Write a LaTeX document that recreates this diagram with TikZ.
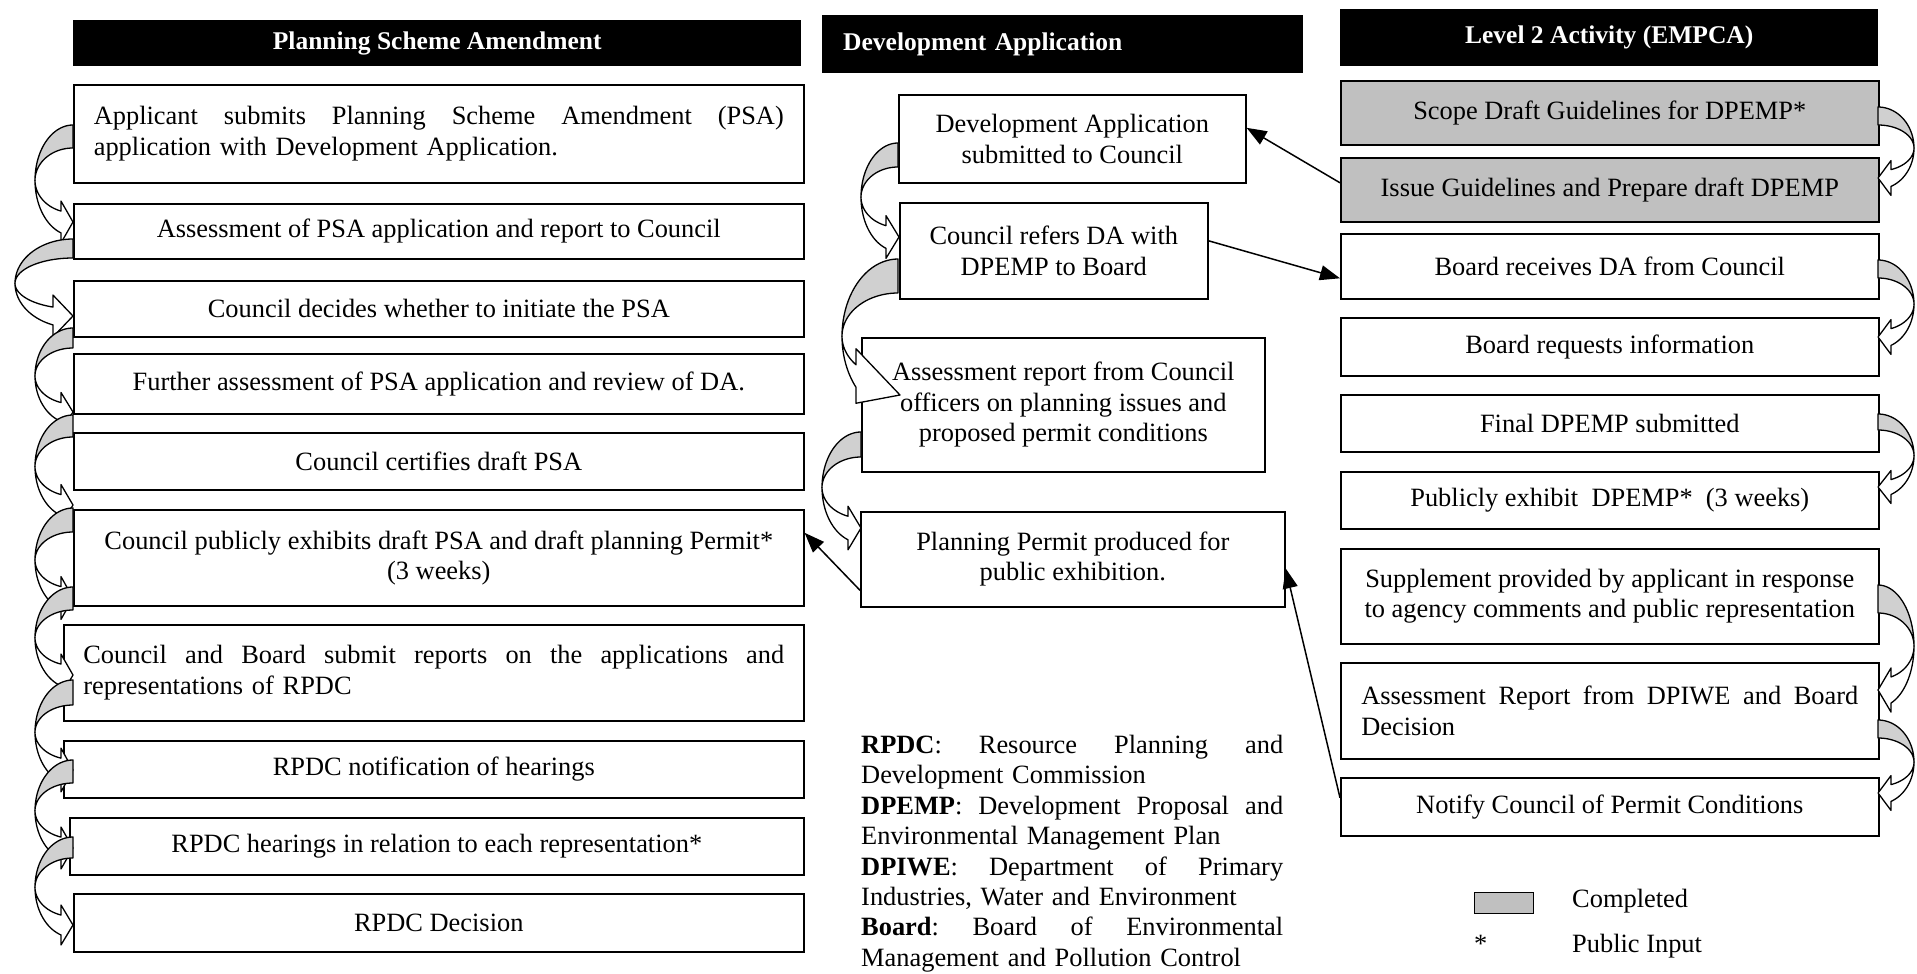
\documentclass[tikz,border=0pt]{standalone}
\usepackage{fontspec}
\setmainfont{Liberation Serif}
\usetikzlibrary{arrows.meta}

\definecolor{donegray}{RGB}{192,192,192}
\definecolor{curlgray}{RGB}{208,208,208}

\newcommand\bodysize{\fontsize{26.4}{30.4}\selectfont}
\newcommand\headsize{\fontsize{25.5}{29}\selectfont\bfseries}
% a justified line: words spread over the given width
\newcommand\spreadline[2]{\leavevmode\hbox to #1{#2}}

% Curved block arrow (ribbon bending outwards and back in).
% #1 x of the start edge, #2/#3 top/bottom of the band at the start,
% #4 outermost x, #5 head depth, #6/#7 tip, #8 barb overhang, #9 tip offset
\newcommand\curl[9]{%
  \pgfmathsetmacro\crx{(#1)-(#4)}%
  \pgfmathsetmacro\ctn{acos(-(#5)/\crx)}%
  \pgfmathsetmacro\csn{sin(\ctn)}%
  \pgfmathsetmacro\ccy{((#7)-(#9)+\csn*((#2)+(#3))/2)/(1+\csn)}%
  \pgfmathsetmacro\cro{\ccy-(#2)}%
  \pgfmathsetmacro\cri{\ccy-(#3)}%
  \pgfmathsetmacro\cxn{(#1)-(#5)}%
  \pgfmathsetmacro\cyu{\ccy+\cri*\csn-(#8)}%
  \pgfmathsetmacro\cyl{\ccy+\cro*\csn+(#8)}%
  \filldraw[curlback]
    plot[domain=0:90,samples=24] ({#1+\crx*cos(270-\x)},{\ccy+\cro*sin(270-\x)})
    -- plot[domain=0:90,samples=24] ({#1+\crx*cos(180+\x)},{\ccy+\cri*sin(180+\x)})
    -- cycle;
  \filldraw[curlfront]
    plot[domain=\ctn:180,samples=20] ({#1+\crx*cos(\x)},{\ccy+\cro*sin(\x)})
    -- plot[domain=\ctn:180,samples=20] ({#1+\crx*cos(180+\ctn-\x)},{\ccy+\cri*sin(180+\ctn-\x)})
    -- (\cxn,\cyu) -- (#6,#7) -- (\cxn,\cyl) -- cycle;
}

\begin{document}
\begin{tikzpicture}[x=1pt,y=-1pt,
  stagebox/.style={draw, line width=1.6pt, inner sep=0pt, anchor=north west,
    align=center, font=\bodysize},
  done/.style={stagebox, fill=donegray},
  headbar/.style={fill=black, text=white, inner sep=0pt, anchor=north west,
    align=center, font=\headsize},
  conn/.style={line width=1.5pt, -{Triangle[length=20pt,width=15pt]}},
  curlback/.style={fill=curlgray, draw=black, line width=1.3pt, line join=round},
  curlfront/.style={fill=white, draw=black, line width=1.3pt, line join=round},
  plain/.style={inner sep=0pt, font=\bodysize}]

\useasboundingbox (0,0) rectangle (1917,974);

% ---------- column headings ----------
\node[headbar, minimum width=728pt, minimum height=46pt] (hpsa) at (73,20)
  {Planning Scheme Amendment};
\node[headbar, minimum width=481pt, minimum height=58pt, text width=439pt,
  align=left] (hda) at (822,15) {Development Application};
\node[headbar, minimum width=538pt, minimum height=57pt] (hlev) at (1340,9)
  {Level 2 Activity (EMPCA)};

% ---------- Planning Scheme Amendment ----------
\node[stagebox, minimum width=730pt, minimum height=98pt, text width=690pt,
  align=left] (psa1) at (73,84)
  {\spreadline{690pt}{Applicant\hfill submits\hfill Planning\hfill Scheme\hfill
     Amendment\hfill (PSA)}\\
   application with Development Application.};
\node[stagebox, minimum width=730pt, minimum height=55pt] (psa2) at (73,203)
  {Assessment of PSA application and report to Council};
\node[stagebox, minimum width=730pt, minimum height=56pt] (psa3) at (73,280)
  {Council decides whether to initiate the PSA};
\node[stagebox, minimum width=730pt, minimum height=60pt] (psa4) at (73,353)
  {Further assessment of PSA application and review of DA.};
\node[stagebox, minimum width=730pt, minimum height=57pt] (psa5) at (73,432)
  {Council certifies draft PSA};
\node[stagebox, minimum width=730pt, minimum height=96pt] (psa6) at (73,509)
  {Council publicly exhibits draft PSA and draft planning Permit*\\(3 weeks)};
\node[stagebox, minimum width=740pt, minimum height=96pt, text width=701pt,
  align=left] (psa7) at (63,624)
  {\spreadline{701pt}{Council\hfill and\hfill Board\hfill submit\hfill reports\hfill
     on\hfill the\hfill applications\hfill and}\\
   representations of RPDC};
\node[stagebox, minimum width=740pt, minimum height=57pt] (psa8) at (63,740)
  {RPDC notification of hearings};
\node[stagebox, minimum width=734pt, minimum height=57pt] (psa9) at (69,817)
  {RPDC hearings in relation to each representation*};
\node[stagebox, minimum width=730pt, minimum height=58pt] (psa10) at (73,893)
  {RPDC Decision};

% ---------- Development Application ----------
\node[stagebox, minimum width=347pt, minimum height=88pt] (dasub) at (898,94)
  {Development Application\\submitted to Council};
\node[stagebox, minimum width=308pt, minimum height=96pt] (refer) at (899,202)
  {Council refers DA with\\DPEMP to Board};
\node[stagebox, minimum width=403pt, minimum height=134pt] (assess) at (861,337)
  {Assessment report from Council\\officers on planning issues and\\proposed permit conditions};
\node[stagebox, minimum width=424pt, minimum height=95pt] (permit) at (860,511)
  {Planning Permit produced for\\public exhibition.};

% ---------- Level 2 Activity ----------
\node[done, minimum width=538pt, minimum height=64pt] (scope) at (1340,80)
  {Scope Draft Guidelines for DPEMP*};
\node[done, minimum width=538pt, minimum height=64pt] (issue) at (1340,157)
  {Issue Guidelines and Prepare draft DPEMP};
\node[stagebox, minimum width=538pt, minimum height=65pt] (recv) at (1340,233)
  {Board receives DA from Council};
\node[stagebox, minimum width=538pt, minimum height=58pt] (req) at (1340,317)
  {Board requests information};
\node[stagebox, minimum width=538pt, minimum height=57pt] (final) at (1340,394)
  {Final DPEMP submitted};
\node[stagebox, minimum width=538pt, minimum height=57pt] (exhibit) at (1340,471)
  {Publicly exhibit\ \ DPEMP*\ \ (3 weeks)};
\node[stagebox, minimum width=538pt, minimum height=95pt] (supp) at (1340,548)
  {Supplement provided by applicant in response\\to agency comments and public representation};
\node[stagebox, minimum width=538pt, minimum height=96pt, text width=497pt,
  align=left] (rassess) at (1340,662)
  {\spreadline{497pt}{Assessment\hfill Report\hfill from\hfill DPIWE\hfill and\hfill
     Board}\\Decision};
\node[stagebox, minimum width=538pt, minimum height=58pt] (notify) at (1340,777)
  {Notify Council of Permit Conditions};

% ---------- abbreviations ----------
\node[plain, anchor=north west, text width=422pt, align=left] (abbr) at (861,735)
  {\spreadline{422pt}{\textbf{RPDC}:\hfill Resource\hfill Planning\hfill and}\\
   Development Commission\\
   \spreadline{422pt}{\textbf{DPEMP}:\hfill Development\hfill Proposal\hfill and}\\
   Environmental Management Plan\\
   \spreadline{422pt}{\textbf{DPIWE}:\hfill Department\hfill of\hfill Primary}\\
   Industries, Water and Environment\\
   \spreadline{422pt}{\textbf{Board}:\hfill Board\hfill of\hfill Environmental}\\
   Management and Pollution Control};

% ---------- key ----------
\node[draw, fill=donegray, line width=1.3pt, inner sep=0pt, minimum width=59pt,
  minimum height=21pt, anchor=north west] (keydone) at (1474,892) {};
\node[plain, anchor=base west] (keydonetxt) at (1572,907) {Completed};
\node[plain, anchor=base west] (keystar) at (1474,952) {*};
\node[plain, anchor=base west] (keystartxt) at (1572,952) {Public Input};

% ---------- curved step arrows, Planning Scheme Amendment ----------
\curl{73}{125}{148}{35}{12}{73}{222}{10}{0}
\curl{73}{239}{258}{15}{20}{73}{316}{12}{0}
\curl{73}{328}{348}{35}{12}{73}{412}{10}{0}
\curl{73}{415}{437}{35}{12}{73}{505}{10}{0}
\curl{73}{508}{532}{35}{12}{73}{598}{10}{0}
\curl{73}{587}{610}{35}{12}{73}{675}{10}{0}
\curl{73}{680}{705}{35}{12}{73}{770}{10}{0}
\curl{73}{760}{783}{35}{12}{73}{848}{10}{0}
\curl{73}{837}{858}{35}{12}{73}{925}{10}{0}

% ---------- curved step arrows, Development Application ----------
\curl{898}{143}{167}{861}{12}{899}{237}{10}{0}
\curl{898}{259}{293}{842}{42}{900}{395}{16}{19}
\curl{861}{432}{457}{822}{13}{861}{528}{10}{0}

% ---------- curved step arrows, Level 2 Activity (bending right) ----------
\begin{scope}[xscale=-1]
\curl{-1878}{107}{125}{-1914}{13}{-1878}{178}{9}{0}
\curl{-1878}{260}{278}{-1914}{13}{-1878}{337}{9}{0}
\curl{-1878}{414}{430}{-1914}{13}{-1878}{487}{9}{0}
\curl{-1878}{585}{613}{-1914}{13}{-1878}{690}{9}{0}
\curl{-1878}{720}{738}{-1914}{13}{-1878}{793}{9}{0}
\end{scope}

% ---------- links between the columns ----------
\draw[conn] ([yshift=7pt]issue.west) -- ([yshift=11pt]dasub.east);
\draw[conn] ([yshift=10pt]refer.east) -- ([yshift=-12pt]recv.west);
\draw[conn] ([yshift=-31pt]permit.west) -- ([yshift=25pt]psa6.east);
\draw[conn] ([yshift=9pt]notify.west) -- ([yshift=-9pt]permit.east);

\end{tikzpicture}
\end{document}
